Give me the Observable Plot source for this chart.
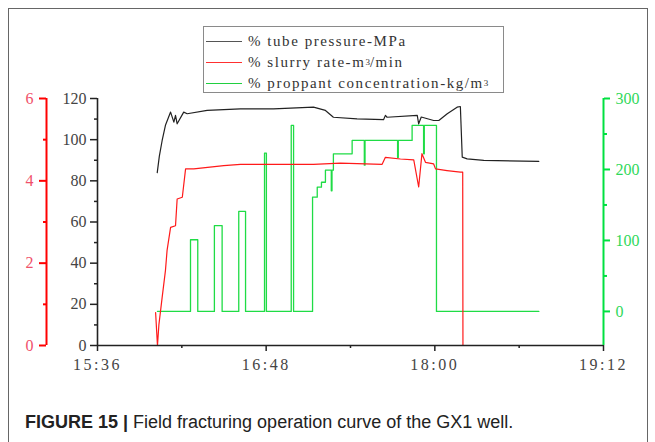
<!DOCTYPE html>
<html><head><meta charset="utf-8">
<script src="https://cdn.jsdelivr.net/npm/d3@7"></script>
<script src="https://cdn.jsdelivr.net/npm/@observablehq/plot@0.6"></script>
<style>
body{margin:0;background:#fff;width:655px;height:442px;overflow:hidden;position:relative;}
#frame{position:absolute;left:8px;top:8px;width:638px;height:460px;border:1.5px solid #666;border-bottom:none;}
#chart{position:absolute;left:0;top:0;}
#legend{position:absolute;left:203px;top:26px;width:299px;height:65px;border:1px solid #8a8a8a;background:#fff;font-family:"Liberation Serif",serif;font-size:15px;letter-spacing:1.55px;color:#333;}
.row{position:absolute;left:0;height:20px;display:flex;align-items:center;white-space:nowrap;}
.sw{width:36px;height:0;border-top:1.2px solid;margin:0 6px 0 2px;}
sup{font-size:9px;vertical-align:6px;line-height:0;letter-spacing:0;}
#caption{position:absolute;left:25px;top:412px;font-family:"Liberation Sans",Arial,sans-serif;font-size:18px;color:#222;white-space:nowrap;}
#chart g[aria-label="x-axis tick label"] text{letter-spacing:2.5px;}
</style></head>
<body>
<div id="frame"></div>
<div id="chart"></div>
<div id="legend">
  <div class="row" style="top:4px"><span class="sw" style="border-color:#555"></span>% tube pressure-MPa</div>
  <div class="row" style="top:25px"><span class="sw" style="border-color:#ff3030"></span>% slurry rate-m<sup>3</sup>/min</div>
  <div class="row" style="top:46px"><span class="sw" style="border-color:#20d040"></span>% proppant concentration-kg/m<sup>3</sup></div>
</div>
<div id="caption"><b>FIGURE 15 |</b> Field fracturing operation curve of the GX1 well.</div>
<script>
// ---- data ----
const pressureTime = ["16:01:30","16:02:24","16:03:36","16:05:00","16:07:12","16:08:36","16:09:18","16:10:00","16:12:48","16:14:18","16:22:48","16:37:00","16:51:06","17:08:12","17:13:18","17:16:42","17:26:48","17:38:06","17:38:54","17:39:36","17:52:30","17:53:06","17:54:12","17:59:30","18:01:42","18:05:18","18:09:30","18:10:54","18:11:42","18:13:48","18:20:54","18:44:24"];
const pressureValue = [84,92,99.6,107,113.4,108.5,111.8,107.7,113.4,112.6,114.2,115,115,115.8,114.2,110.9,110.1,109.7,111.8,110.9,111.8,107.7,111,109.3,109.3,112.6,115.8,116.1,91.5,90.7,89.9,89.5];

const rateTime = ["16:00:48","16:01:36","16:02:12","16:03:36","16:05:00","16:05:42","16:07:12","16:09:18","16:10:00","16:12:12","16:13:36","16:17:06","16:29:54","16:37:00","16:51:12","17:08:12","17:19:42","17:37:30","17:38:54","17:45:18","17:51:00","17:53:06","17:54:30","17:56:00","17:59:30","18:00:18","18:05:12","18:10:54","18:11:54","18:12:00"];
const rateValue = [0.8,0,0.5,1.17,1.82,2.31,2.87,2.91,3.56,3.6,4.29,4.29,4.37,4.4,4.4,4.4,4.43,4.4,4.57,4.53,4.51,3.85,4.66,4.45,4.41,4.29,4.25,4.21,4.21,0];

const proppantTime = ["16:01:36","16:15:42","16:18:48","16:25:54","16:29:12","16:36:18","16:39:12","16:47:18","16:48:06","16:58:42","16:59:42","17:07:48","17:09:48","17:11:36","17:13:18","17:15:48","17:16:06","17:16:42","17:24:42","17:29:54","17:30:12","17:44:06","17:44:24","17:50:18","17:55:12","17:55:30","18:00:42","18:44:24"];
const proppantValue = [0,101,0,121,0,141,0,223,0,262,0,161,175,182,199,170,199,222,241,206,241,217,241,262,222,262,0,0];

const xTickLabels = ["15:36","16:48","18:00","19:12"];
const xMinorTicks = ["16:12","17:24","18:36"];
const pressureTicks = [0,20,40,60,80,100,120];
const pressureMinor = [10,30,50,70,90,110];
const rateTicks = [0,2,4,6];
const rateMinor = [1,3,5];
const proppantTicks = [0,100,200,300];
const proppantMinor = [50,150,250];
const proppantDomain = [-48,300];

// ---- helpers ----
const toMin = s => { const p = s.split(":").map(Number); return p[0]*60 + p[1] + (p[2]||0)/60; };
const rateY = v => v * 20;
const propY = v => (v - proppantDomain[0]) * 120 / (proppantDomain[1] - proppantDomain[0]);
const propFromY = y => y * (proppantDomain[1] - proppantDomain[0]) / 120 + proppantDomain[0];
const fmtTime = m => { const h = Math.floor(m/60), mm = Math.round(m - h*60); return h + ":" + String(mm).padStart(2,"0"); };

const pressure = pressureTime.map((t,i) => ({t: toMin(t), v: pressureValue[i]}));
const rate = rateTime.map((t,i) => ({t: toMin(t), v: rateValue[i]}));
const proppant = proppantTime.map((t,i) => ({t: toMin(t), v: proppantValue[i]}));

const x0 = toMin(xTickLabels[0]), x1 = toMin(xTickLabels[xTickLabels.length-1]);
const RED = "#ff1a1a", GREEN = "#1fdc45", BLACK = "#222";

const plot = Plot.plot({
  width: 655, height: 380,
  marginLeft: 97, marginRight: 52, marginTop: 98, marginBottom: 35,
  style: {fontFamily: "'Liberation Serif', serif", fontSize: "16px", background: "transparent", overflow: "visible"},
  x: {type: "linear", domain: [x0, x1], axis: null},
  y: {domain: [0, 120], axis: null},
  marks: [
    Plot.lineY(proppant, {x: "t", y: d => propY(d.v), curve: "step-after", stroke: GREEN, strokeWidth: 1.3}),
    Plot.lineY(rate, {x: "t", y: d => rateY(d.v), stroke: RED, strokeWidth: 1.2}),
    Plot.lineY(pressure, {x: "t", y: "v", stroke: BLACK, strokeWidth: 1.2}),
    // axis lines
    Plot.ruleY([0], {stroke: BLACK, strokeWidth: 1.6}),
    Plot.ruleX([x0], {stroke: BLACK, strokeWidth: 1.6}),
    Plot.ruleX([x0], {dx: -51, stroke: "#ff0000", strokeWidth: 2}),
    Plot.ruleX([x1], {stroke: "#00e040", strokeWidth: 2}),
    // x axis
    Plot.axisX(xTickLabels.map(toMin), {tickFormat: fmtTime, tickSize: 6, tickPadding: 7, stroke: BLACK, strokeWidth: 1.5, fill: "#444", fontSize: 16, label: null}),
    Plot.axisX(xMinorTicks.map(toMin), {tickFormat: () => "", tickSize: 3, stroke: BLACK, strokeWidth: 1.5, label: null}),
    // pressure axis
    Plot.axisY(pressureTicks, {anchor: "left", tickSize: 7, tickPadding: 4, stroke: BLACK, strokeWidth: 1.5, fill: "#444", fontSize: 16, label: null}),
    Plot.axisY(pressureMinor, {anchor: "left", tickFormat: () => "", tickSize: 3, stroke: BLACK, strokeWidth: 1.5, label: null}),
    // rate axis
    Plot.axisY(rateTicks.map(rateY), {anchor: "left", dx: -51, tickFormat: y => Math.round(y/20), tickSize: 7, tickPadding: 6, stroke: "#ff0000", strokeWidth: 2, fill: "#f0506a", fontSize: 16, label: null}),
    Plot.axisY(rateMinor.map(rateY), {anchor: "left", dx: -51, tickFormat: () => "", tickSize: 3, stroke: "#ff0000", strokeWidth: 2, label: null}),
    // proppant axis
    Plot.axisY(proppantTicks.map(propY), {anchor: "right", tickFormat: y => Math.round(propFromY(y)), tickSize: 6, tickPadding: 6, stroke: "#00e040", strokeWidth: 2, fill: "#2fd85a", fontSize: 16, label: null}),
    Plot.axisY(proppantMinor.map(propY), {anchor: "right", tickFormat: () => "", tickSize: 3, stroke: "#00e040", strokeWidth: 2, label: null})
  ]
});
document.getElementById("chart").appendChild(plot);
</script>
</body></html>
